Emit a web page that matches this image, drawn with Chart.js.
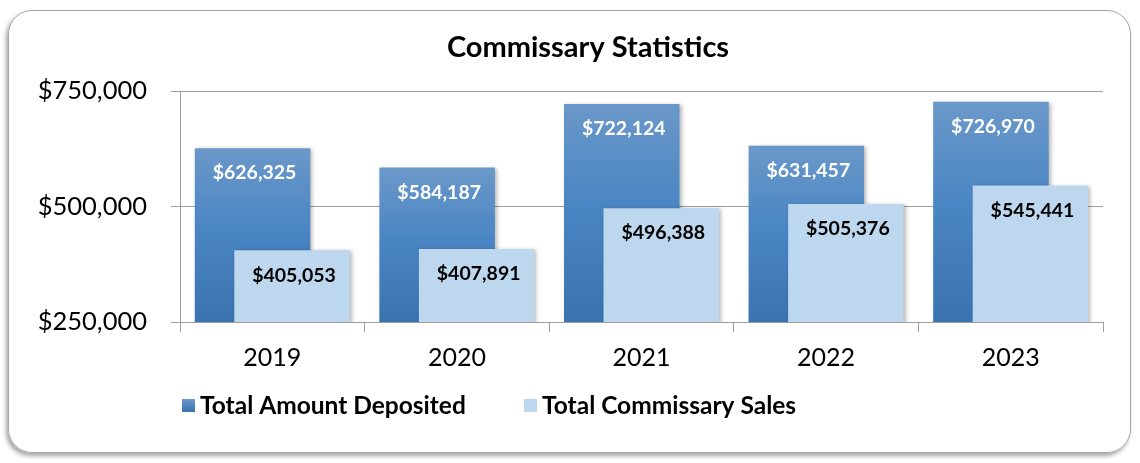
<!DOCTYPE html>
<html>
<head>
<meta charset="utf-8">
<script src="https://cdn.jsdelivr.net/npm/chart.js@4.4.1/dist/chart.umd.min.js"></script>
<style>
  html, body { margin: 0; padding: 0; background: #ffffff; }
  #wrap { position: relative; width: 1140px; height: 463px; }
  #frame {
    position: absolute; left: 8px; top: 10px; width: 1123px; height: 443px;
    box-sizing: border-box; border: 1px solid #a6a6a6; border-radius: 24px;
    box-shadow: -2px 3px 4px rgba(0,0,0,0.35);
  }
  canvas { position: absolute; left: 0; top: 0; }
</style>
</head>
<body>
<div id="wrap">
  <div id="frame"></div>
  <canvas id="chart" width="1140" height="463"></canvas>
</div>
<script>
// Commissary figures by year
const years = ['2019', '2020', '2021', '2022', '2023'];
const deposited = [626325, 584187, 722124, 631457, 726970];
const sales = [405053, 407891, 496388, 505376, 545441];
const yTickValues = [250000, 500000, 750000];
const seriesNames = ['Total Amount Deposited', 'Total Commissary Sales'];
const chartTitle = 'Commissary Statistics';

const FONT = 'Lato, "Open Sans", sans-serif';
const DARK_TOP = '#6b98c9';
const DARK_MID = '#4b86c4';
const DARK_BOTTOM = '#3973b0';
const LIGHT = '#bdd7ee';
const GRID = '#9e9e9e';

function money(v) {
  return '$' + String(Math.round(v)).replace(/\B(?=(\d{3})+(?!\d))/g, ',');
}

function darkGradient(ctx) {
  const chart = ctx.chart;
  const area = chart.chartArea;
  if (!area || ctx.type !== 'data') return DARK_MID;
  const top = chart.scales.y.getPixelForValue(ctx.raw);
  const g = chart.ctx.createLinearGradient(0, top, 0, area.bottom);
  g.addColorStop(0, DARK_TOP);
  g.addColorStop(0.45, DARK_MID);
  g.addColorStop(1, DARK_BOTTOM);
  return g;
}

function setShadow(c) {
  c.shadowColor = 'rgba(0,0,0,0.28)';
  c.shadowBlur = 4;
  c.shadowOffsetX = 2;
  c.shadowOffsetY = 1;
}

// Sales bars sit in front of the deposit bars, so they are drawn last, with a soft shadow.
const layering = {
  id: 'layering',
  beforeDatasetDraw(chart, args) {
    if (args.index === 1) return false;
    chart.ctx.save();
    setShadow(chart.ctx);
  },
  afterDatasetDraw(chart, args) {
    if (args.index !== 1) chart.ctx.restore();
  },
  afterDatasetsDraw(chart) {
    const c = chart.ctx;
    const area = chart.chartArea;
    const meta = chart.getDatasetMeta(1);
    c.save();
    c.beginPath();
    c.rect(area.left, area.top, area.right - area.left, area.bottom - area.top);
    c.clip();
    setShadow(c);
    meta.controller.draw();
    c.restore();

    // value labels inside the bars
    c.save();
    c.textAlign = 'center';
    c.textBaseline = 'middle';
    c.font = 'bold 19.5px ' + FONT;
    chart.data.datasets.forEach((ds, di) => {
      const m = chart.getDatasetMeta(di);
      c.fillStyle = di === 0 ? '#ffffff' : '#000000';
      m.data.forEach((bar, i) => {
        c.fillText(money(ds.data[i]), bar.x + 2, bar.y + 25);
      });
    });
    c.restore();
  }
};

// Title centred over the frame
const titleText = {
  id: 'titleText',
  afterDraw(chart) {
    const c = chart.ctx;
    c.save();
    c.font = 'bold 29px ' + FONT;
    c.fillStyle = '#000000';
    c.textAlign = 'center';
    c.textBaseline = 'middle';
    c.fillText(chartTitle, 588, 48);
    c.restore();
  }
};

// Legend row under the year labels
const legendRow = {
  id: 'legendRow',
  afterDraw(chart) {
    const c = chart.ctx;
    const area = chart.chartArea;
    const y = area.bottom + 83;
    const starts = [area.left + 2, area.left + 344];
    c.save();
    c.font = 'bold 24.5px ' + FONT;
    c.textBaseline = 'middle';
    c.textAlign = 'left';
    chart.data.datasets.forEach((ds, i) => {
      const x = starts[i];
      if (i === 0) {
        const g = c.createLinearGradient(0, y - 6, 0, y + 7);
        g.addColorStop(0, DARK_TOP);
        g.addColorStop(1, DARK_BOTTOM);
        c.fillStyle = g;
      } else {
        c.fillStyle = LIGHT;
      }
      c.fillRect(x, y - 6, 13, 13);
      c.fillStyle = '#000000';
      c.fillText(ds.label, x + 18, y + 1);
    });
    c.restore();
  }
};

new Chart(document.getElementById('chart'), {
  type: 'bar',
  data: {
    labels: years,
    datasets: [
      {
        label: seriesNames[0],
        data: deposited,
        backgroundColor: darkGradient,
        borderWidth: 0,
        categoryPercentage: 0.428,
        barPercentage: 2.924
      },
      {
        label: seriesNames[1],
        data: sales,
        backgroundColor: LIGHT,
        borderWidth: 0,
        categoryPercentage: 0.428,
        barPercentage: 2.924
      }
    ]
  },
  options: {
    responsive: false,
    animation: false,
    layout: { padding: { left: 20, right: 37, top: 91, bottom: 81 } },
    plugins: {
      legend: { display: false },
      tooltip: { enabled: false },
      title: { display: false }
    },
    scales: {
      x: {
        offset: true,
        grid: {
          offset: true,
          drawOnChartArea: false,
          color: GRID,
          tickLength: 10
        },
        border: { display: true, color: GRID },
        ticks: {
          color: '#000000',
          font: { family: FONT, size: 25 },
          padding: 11
        },
        afterFit(scale) { scale.height = 60; }
      },
      y: {
        min: 250000,
        max: 750000,
        afterBuildTicks(scale) {
          scale.ticks = yTickValues.map(v => ({ value: v }));
        },
        grid: { color: GRID, tickLength: 9 },
        border: { display: true, color: GRID },
        ticks: {
          color: '#000000',
          font: { family: FONT, size: 25.5 },
          padding: 24,
          callback: v => money(v)
        },
        afterFit(scale) { scale.width = 160; }
      }
    }
  },
  plugins: [layering, titleText, legendRow]
});
</script>
</body>
</html>
